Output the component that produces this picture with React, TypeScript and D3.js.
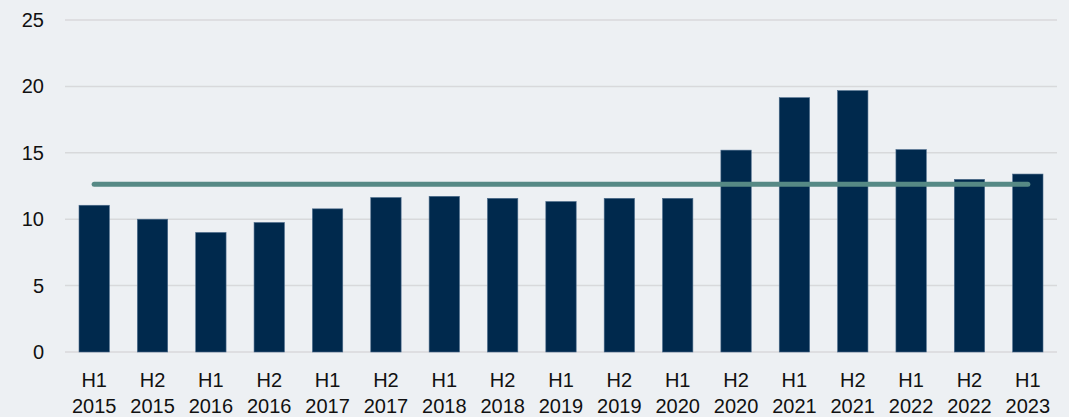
import React from 'react'
import * as d3 from 'd3'

const halves = ['H1', 'H2', 'H1', 'H2', 'H1', 'H2', 'H1', 'H2', 'H1', 'H2', 'H1', 'H2', 'H1', 'H2', 'H1', 'H2', 'H1']
const years = ['2015', '2015', '2016', '2016', '2017', '2017', '2018', '2018', '2019', '2019', '2020', '2020', '2021', '2021', '2022', '2022', '2023']
const values = [11.05, 10.0, 9.0, 9.75, 10.78, 11.63, 11.72, 11.57, 11.33, 11.57, 11.57, 15.2, 19.15, 19.68, 15.24, 13.0, 13.4]
const averageValue = 12.64
const yTicks = [0, 5, 10, 15, 20, 25]

const W = 1069
const H = 417
const margin = { top: 20, right: 12, bottom: 65, left: 65 }

export default function App() {
  const categories = halves.map((h, i) => `${h} ${years[i]}`)

  const x = d3
    .scaleBand<string>()
    .domain(categories)
    .range([margin.left, W - margin.right])
    .paddingInner(0.48)
    .paddingOuter(0.24)

  const y = d3
    .scaleLinear()
    .domain([0, 25])
    .range([H - margin.bottom, margin.top])

  // average line runs from the centre of the first bar to the centre of the last
  const avgLine = d3
    .line<string>()
    .x(c => (x(c) ?? 0) + x.bandwidth() / 2)
    .y(() => y(averageValue))

  const font = '"Liberation Sans", Arial, sans-serif'

  return (
    <div style={{ position: 'fixed', left: 0, top: 0 }}>
      <svg width={W} height={H} style={{ display: 'block' }}>
        <rect x={0} y={0} width={W} height={H} fill="#edf0f3" />

        {/* grid */}
        {yTicks.map(t => (
          <g key={t}>
            <line
              x1={margin.left}
              x2={W - margin.right}
              y1={y(t)}
              y2={y(t)}
              stroke="#d8d9db"
              strokeWidth={1.5}
            />
            <text
              x={44}
              y={y(t)}
              dy="0.35em"
              textAnchor="end"
              fontFamily={font}
              fontSize={20}
              fill="#111"
            >
              {t}
            </text>
          </g>
        ))}

        {/* bars */}
        {categories.map((c, i) => (
          <rect
            key={c}
            x={x(c)}
            y={y(values[i])}
            width={x.bandwidth()}
            height={y(0) - y(values[i])}
            fill="#00294d"
            stroke="#4a6a8a"
            strokeWidth={0.6}
          />
        ))}

        <path
          d={avgLine(categories) ?? ''}
          fill="none"
          stroke="#568985"
          strokeWidth={5}
          strokeLinecap="round"
        />

        {/* x labels */}
        {categories.map((c, i) => (
          <text
            key={c}
            x={(x(c) ?? 0) + x.bandwidth() / 2}
            textAnchor="middle"
            fontFamily={font}
            fontSize={20}
            fill="#111"
          >
            <tspan x={(x(c) ?? 0) + x.bandwidth() / 2} y={387}>{halves[i]}</tspan>
            <tspan x={(x(c) ?? 0) + x.bandwidth() / 2} y={413}>{years[i]}</tspan>
          </text>
        ))}
      </svg>
    </div>
  )
}
